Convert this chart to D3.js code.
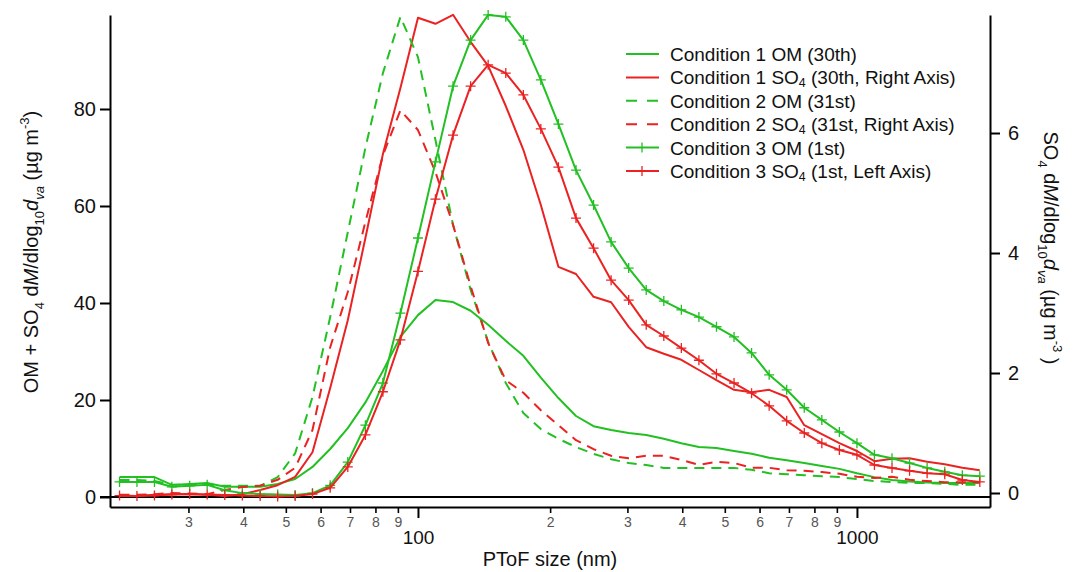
<!DOCTYPE html>
<html><head><meta charset="utf-8">
<script src="https://cdn.jsdelivr.net/npm/d3@7"></script>
<style>
body{margin:0;background:#fff}
svg{display:block}
text{font-family:"Liberation Sans",Arial,sans-serif;white-space:pre}
</style>
</head><body>
<svg id="chart" width="1078" height="572"></svg>
<script>
// Particle size bins (nm)
const sizes = [20.9, 22.9, 25.1, 27.5, 30.2, 33.1, 36.3, 39.8, 43.7, 47.9,
  52.5, 57.5, 63.1, 69.2, 75.9, 83.2, 91.2, 100, 109.6, 120.2,
  131.8, 144.5, 158.5, 173.8, 190.5, 208.9, 229.1, 251.2, 275.4, 302.0,
  331.1, 363.1, 398.1, 436.5, 478.6, 524.8, 575.4, 631.0, 691.8, 758.6,
  831.8, 912.0, 1000, 1096, 1202, 1318, 1445, 1585, 1738, 1905];

// Condition 1 OM (left axis)
const c1OM = [4.1, 4.1, 4.1, 2.5, 2.7, 2.9, 2.1, 2.1, 2.1, 2.7,
  3.7, 6.2, 9.9, 14.2, 19.5, 26.0, 33.0, 37.5, 40.6, 40.2,
  38.4, 35.5, 32.2, 29.1, 24.6, 20.4, 16.7, 14.6, 13.8, 13.2,
  12.8, 12.0, 11.1, 10.3, 10.1, 9.5, 8.9, 8.1, 7.6, 7.0,
  6.4, 5.8, 4.9, 4.1, 3.5, 3.2, 3.0, 2.9, 2.9, 2.9];
// Condition 1 SO4 (right axis)
const c1SO4 = [-0.05, -0.05, -0.03, -0.02, -0.02, -0.03, -0.05, -0.02, 0.05, 0.13,
  0.27, 0.68, 1.75, 2.88, 4.25, 5.65, 6.75, 7.92, 7.82, 7.97,
  7.52, 7.12, 6.45, 5.72, 4.8, 3.77, 3.65, 3.27, 3.18, 2.77,
  2.43, 2.32, 2.22, 2.05, 1.88, 1.72, 1.68, 1.72, 1.6, 1.13,
  0.98, 0.83, 0.7, 0.53, 0.57, 0.58, 0.52, 0.48, 0.42, 0.38];
// Condition 2 OM (left axis)
const c2OM = [3.5, 3.5, 3.3, 2.5, 2.5, 2.5, 2.3, 2.3, 2.3, 4.1,
  9.0, 20.6, 37.1, 54.6, 72.0, 87.4, 99.0, 90.7, 73.6, 56.1,
  42.7, 32.0, 23.5, 17.3, 14.0, 12.0, 10.3, 8.9, 7.8, 7.0,
  6.6, 6.0, 6.0, 6.0, 6.0, 6.0, 5.6, 4.9, 4.7, 4.5,
  4.3, 4.1, 3.7, 3.3, 3.1, 2.9, 2.9, 2.7, 2.5, 2.5];
// Condition 2 SO4 (right axis)
const c2SO4 = [-0.03, -0.03, -0.02, 0.0, -0.01, -0.02, 0.05, 0.1, 0.12, 0.22,
  0.42, 1.05, 2.43, 3.35, 4.52, 5.63, 6.38, 6.05, 5.35, 4.47,
  3.45, 2.5, 1.88, 1.67, 1.38, 1.13, 0.88, 0.73, 0.62, 0.58,
  0.62, 0.62, 0.55, 0.47, 0.52, 0.5, 0.42, 0.42, 0.38, 0.37,
  0.35, 0.32, 0.27, 0.25, 0.27, 0.22, 0.2, 0.18, 0.18, 0.18];
// Condition 3 OM (left axis)
const c3OM = [3.1, 3.1, 3.1, 2.1, 2.3, 2.5, 1.4, 0.8, 0.6, 0.5,
  0.4, 0.8, 2.4, 7.2, 14.8, 23.5, 37.9, 53.4, 69.1, 84.7,
  94.2, 99.4, 99.0, 94.2, 86.0, 76.9, 67.4, 60.2, 52.6, 47.2,
  42.7, 40.4, 38.6, 37.1, 35.1, 33.0, 29.7, 25.2, 22.1, 18.4,
  15.9, 13.4, 11.1, 8.7, 8.0, 7.0, 6.0, 5.2, 4.5, 4.3];
// Condition 3 SO4 (left axis)
const c3SO4 = [0.3, 0.2, 0.3, 0.5, 0.6, 0.5, 0.4, 0.3, 0.2, 0.1,
  0.2, 0.6, 1.9, 6.2, 12.8, 21.7, 32.4, 46.5, 61.4, 74.6,
  84.7, 89.1, 87.4, 82.9, 75.9, 68.0, 57.5, 51.3, 44.7, 40.6,
  35.5, 33.2, 30.7, 28.2, 25.4, 23.5, 21.4, 18.8, 15.7, 13.2,
  11.1, 9.7, 8.7, 6.6, 6.0, 5.4, 4.9, 4.7, 3.5, 3.1];

const leftTicks = [0, 20, 40, 60, 80];
const rightTicks = [0, 2, 4, 6];
const xMajorTicks = [100, 1000];
const xMinorTicks = [30, 40, 50, 60, 70, 80, 90, 200, 300, 400, 500, 600, 700, 800, 900];

const GREEN = "#22c022", RED = "#ea2222";

const svg = d3.select("#chart");
const x = d3.scaleLog().domain([19.88, 2009.6]).range([110, 990]);
const yL = d3.scaleLinear().domain([-2.062, 99.38]).range([507, 15]);
const yR = d3.scaleLinear().domain([-0.2333, 7.967]).range([507, 15]);

function rich(sel, segs, fs, subShift) {
  let off = 0;
  segs.forEach(s => {
    const target = s.sub ? (subShift != null ? subShift : fs * 0.3) : (s.sup ? -fs * 0.45 : 0);
    const t = sel.append("tspan").text(s.t).attr("dy", target - off);
    if (s.sub || s.sup) t.attr("font-size", fs * 0.65);
    if (s.it) t.attr("font-style", "italic");
    off = target;
  });
}

const series = [
  {values: c1OM, y: yL, color: GREEN, dash: null, marker: false,
   label: [{t: "Condition 1 OM (30th)"}]},
  {values: c1SO4, y: yR, color: RED, dash: null, marker: false,
   label: [{t: "Condition 1 SO"}, {t: "4", sub: true}, {t: " (30th, Right Axis)"}]},
  {values: c2OM, y: yL, color: GREEN, dash: "10,7", marker: false,
   label: [{t: "Condition 2 OM (31st)"}]},
  {values: c2SO4, y: yR, color: RED, dash: "10,7", marker: false,
   label: [{t: "Condition 2 SO"}, {t: "4", sub: true}, {t: " (31st, Right Axis)"}]},
  {values: c3OM, y: yL, color: GREEN, dash: null, marker: true,
   label: [{t: "Condition 3 OM (1st)"}]},
  {values: c3SO4, y: yL, color: RED, dash: null, marker: true,
   label: [{t: "Condition 3 SO"}, {t: "4", sub: true}, {t: " (1st, Left Axis)"}]}
];

// zero line
svg.append("line").attr("x1", 100).attr("x2", 990)
  .attr("y1", yL(0)).attr("y2", yL(0)).attr("stroke", "#000").attr("stroke-width", 2);

// data
const plot = svg.append("g");
series.forEach(s => {
  const line = d3.line().x((d, i) => x(sizes[i])).y(d => s.y(d));
  plot.append("path").datum(s.values).attr("d", line)
    .attr("fill", "none").attr("stroke", s.color).attr("stroke-width", 2)
    .attr("stroke-linejoin", "round")
    .attr("stroke-dasharray", s.dash);
  if (s.marker) {
    plot.selectAll(null).data(s.values).enter().append("path")
      .attr("d", (d, i) => {
        const px = x(sizes[i]), py = s.y(d);
        return `M${px - 5},${py}H${px + 5}M${px},${py - 5}V${py + 5}`;
      })
      .attr("stroke", s.color).attr("stroke-width", 1.3).attr("fill", "none");
  }
});

// axes
const axL = svg.append("g").attr("transform", "translate(110,0)")
  .call(d3.axisLeft(yL).tickValues(leftTicks).tickSize(10).tickPadding(4).tickSizeOuter(0));
const axR = svg.append("g").attr("transform", "translate(990,0)")
  .call(d3.axisRight(yR).tickValues(rightTicks).tickSize(10).tickPadding(8).tickSizeOuter(0));
const axXmaj = svg.append("g").attr("transform", "translate(0,507)")
  .call(d3.axisBottom(x).tickValues(xMajorTicks).tickFormat(d3.format("d")).tickSize(11).tickPadding(13).tickSizeOuter(0));
const axXmin = svg.append("g").attr("transform", "translate(0,507)")
  .call(d3.axisBottom(x).tickValues(xMinorTicks).tickFormat(d => String(d).charAt(0)).tickSize(6).tickPadding(4).tickSizeOuter(0));

[axL, axR, axXmaj, axXmin].forEach(a => {
  a.select(".domain").attr("stroke", "#000").attr("stroke-width", 2);
  a.selectAll(".tick line").attr("stroke", "#000").attr("stroke-width", 2);
  a.selectAll("text").attr("font-family", "Liberation Sans, Arial, sans-serif").attr("fill", "#111");
});
axL.selectAll("text").attr("font-size", 20);
axR.selectAll("text").attr("font-size", 20);
axXmaj.selectAll("text").attr("font-size", 19);
axXmin.select(".domain").remove();
axXmin.selectAll("text").attr("font-size", 14).attr("fill", "#555");
axXmin.selectAll(".tick line").attr("stroke-width", 1.6);

// axis titles
svg.append("text").attr("x", 550).attr("y", 566).attr("text-anchor", "middle")
  .attr("font-size", 20).attr("fill", "#111").text("PToF size (nm)");

const fsA = 20;
const lt = svg.append("text").attr("transform", "translate(38,252) rotate(-90)")
  .attr("text-anchor", "middle").attr("font-size", fsA).attr("fill", "#111");
rich(lt, [{t: "OM + SO"}, {t: "4", sub: true}, {t: " d"}, {t: "M", it: true}, {t: "/dlog"},
  {t: "10", sub: true}, {t: "d", it: true}, {t: "va", sub: true, it: true}, {t: " (µg m"},
  {t: "-3", sup: true}, {t: ")"}], fsA);

const rt = svg.append("text").attr("transform", "translate(1044,248) rotate(90)")
  .attr("text-anchor", "middle").attr("font-size", fsA).attr("fill", "#111");
rich(rt, [{t: "SO"}, {t: "4", sub: true}, {t: " d"}, {t: "M", it: true}, {t: "/dlog"},
  {t: "10", sub: true}, {t: "d", it: true}, {t: "va", sub: true, it: true}, {t: " (µg m"},
  {t: "-3", sup: true}, {t: " )"}], fsA);

// legend
const lg = svg.append("g");
const fsL = 19;
series.forEach((s, i) => {
  const cy = 54 + i * 23.4;
  lg.append("line").attr("x1", 626).attr("x2", 659).attr("y1", cy).attr("y2", cy)
    .attr("stroke", s.color).attr("stroke-width", 2).attr("stroke-dasharray", s.dash ? "11,10" : null);
  if (s.marker) {
    lg.append("line").attr("x1", 642).attr("x2", 642).attr("y1", cy - 5).attr("y2", cy + 5)
      .attr("stroke", s.color).attr("stroke-width", 1.3);
  }
  const t = lg.append("text").attr("x", 670).attr("y", cy + 7).attr("font-size", fsL).attr("fill", "#111");
  rich(t, s.label, fsL, 3);
});
</script>
</body></html>
